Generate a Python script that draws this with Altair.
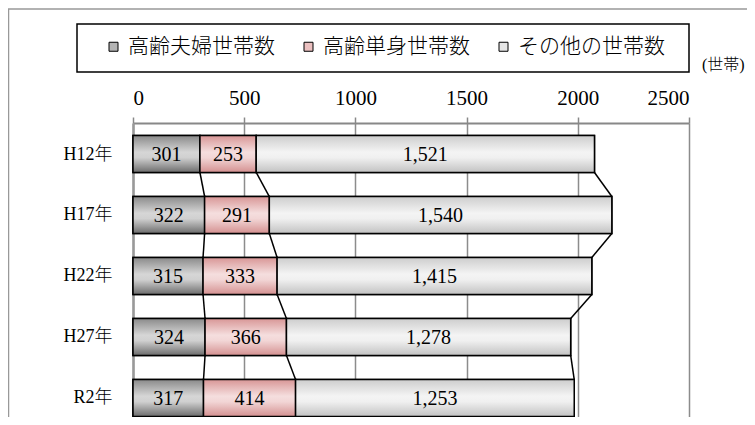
import altair as alt
import pandas as pd

categories = ["H12年", "H17年", "H22年", "H27年", "R2年"]
series_names = ["高齢夫婦世帯数", "高齢単身世帯数", "その他の世帯数"]
couple = [301, 322, 315, 324, 317]
single = [253, 291, 333, 366, 414]
other = [1521, 1540, 1415, 1278, 1253]
x_ticks = [0, 500, 1000, 1500, 2000, 2500]
unit_label = "(世帯)"

FONT = "Liberation Serif, Noto Sans CJK JP"
HALF = 0.303  # half bar thickness in category units

series_values = [couple, single, other]
rows = []
for i, cat in enumerate(categories):
    start = 0
    for name, vals in zip(series_names, series_values):
        v = vals[i]
        rows.append({
            "cat": cat, "idx": i, "series": name, "value": v,
            "start": start, "end": start + v, "mid": start + v / 2,
            "y0": i - HALF, "y1": i + HALF,
        })
        start += v
df = pd.DataFrame(rows)

# connector lines between consecutive bars at the cumulative boundaries
conn = []
for k in range(3):
    cum = [sum(series_values[j][i] for j in range(k + 1)) for i in range(len(categories))]
    for i in range(len(categories) - 1):
        conn.append({"x": cum[i], "x2": cum[i + 1], "y": i + HALF, "y2": i + 1 - HALF})
conn_df = pd.DataFrame(conn)

def grad(c0, c1, c2, c3):
    return alt.Gradient(
        gradient="linear",
        stops=[alt.GradientStop(color=c0, offset=0),
               alt.GradientStop(color=c1, offset=0.45),
               alt.GradientStop(color=c2, offset=0.6),
               alt.GradientStop(color=c3, offset=1)],
        x1=0, x2=0, y1=0, y2=1,
    )

gradients = [
    grad("#8a8a8a", "#d6d6d6", "#d0d0d0", "#6c6c6c"),
    grad("#d89696", "#f5dede", "#f2d6d6", "#d49090"),
    grad("#cdcdcd", "#f4f4f4", "#f0f0f0", "#c2c2c2"),
]
legend_colors = ["#b4b4b4", "#ebc0c0", "#e6e6e6"]

label_expr = "[" + ",".join("'%s'" % c for c in categories) + "][datum.value]"

xscale = alt.Scale(domain=[0, 2500], nice=False, zero=False)
yscale = alt.Scale(domain=[-0.5082, 4.3115], reverse=True, nice=False, zero=False)

x_axis = alt.Axis(orient="top", values=x_ticks, title=None, format="d",
                  labelFont=FONT, labelFontSize=21, labelFontWeight=300,
                  labelColor="black", labelPadding=9,
                  tickColor="#888888", tickSize=6, tickWidth=1.5,
                  domainColor="#888888", domainWidth=2,
                  grid=True, gridColor="#8c8c8c", gridWidth=1.5)
y_axis = alt.Axis(values=list(range(len(categories))), labelExpr=label_expr, title=None,
                  labelFont=FONT, labelFontSize=18, labelFontWeight=300,
                  labelColor="black", labelPadding=21,
                  ticks=False, grid=False, domainColor="#999999", domainWidth=2.5)

base = alt.Chart(df)

legend_layer = base.mark_rect(stroke="black", strokeWidth=1.5).encode(
    x=alt.X("start:Q", scale=xscale, axis=x_axis),
    x2="end:Q",
    y=alt.Y("y0:Q", scale=yscale, axis=y_axis),
    y2="y1:Q",
    color=alt.Color("series:N",
                    scale=alt.Scale(domain=series_names, range=legend_colors),
                    legend=alt.Legend(orient="none", legendX=-30, legendY=-87,
                                      direction="horizontal", title=None,
                                      symbolType="square", symbolSize=81,
                                      symbolStrokeColor="black", symbolStrokeWidth=1,
                                      labelFont=FONT, labelFontSize=21, labelFontWeight=300,
                                      labelColor="black",
                                      labelOffset=4, columnPadding=23, padding=0)),
)

grad_layers = []
for name, g in zip(series_names, gradients):
    grad_layers.append(
        base.transform_filter(alt.datum.series == name)
        .mark_rect(fill=g, stroke="black", strokeWidth=1.5)
        .encode(x="start:Q", x2="end:Q", y="y0:Q", y2="y1:Q")
    )

labels = base.mark_text(font=FONT, fontSize=20, fontWeight=300, color="black", align="center",
                        baseline="middle", dy=1).encode(
    x="mid:Q", y="idx:Q", text=alt.Text("value:Q", format=","))

connectors = alt.Chart(conn_df).mark_rule(color="black", strokeWidth=1.5).encode(
    x="x:Q", x2="x2:Q", y="y:Q", y2="y2:Q")

deco = pd.DataFrame({"k": [0]})
legend_box = alt.Chart(deco).mark_rect(fill="white", stroke="black", strokeWidth=1.5).encode(
    x=alt.value(-56), x2=alt.value(556), y=alt.value(-99), y2=alt.value(-51))
frame_top = alt.Chart(deco).mark_rule(color="#999999", strokeWidth=1.5).encode(
    x=alt.value(-125), x2=alt.value(614), y=alt.value(-114))
frame_left = alt.Chart(deco).mark_rule(color="#999999", strokeWidth=1.5).encode(
    x=alt.value(-124.5), y=alt.value(-114), y2=alt.value(294))
unit = alt.Chart(pd.DataFrame({"t": [unit_label]})).mark_text(
    font=FONT, fontSize=16, fontWeight=300, color="black", align="left", baseline="middle").encode(
    x=alt.value(569), y=alt.value(-58), text="t:N")

chart = alt.layer(
    frame_top, frame_left, legend_box, legend_layer, *grad_layers, connectors, labels, unit
).properties(
    width=556, height=294,
    padding={"left": 125, "top": 115, "right": 58, "bottom": 0},
    autosize=alt.AutoSizeParams(type="none"),
).configure_view(stroke=None)

chart.save("out.html", embed_options={"renderer": "svg", "actions": False})
